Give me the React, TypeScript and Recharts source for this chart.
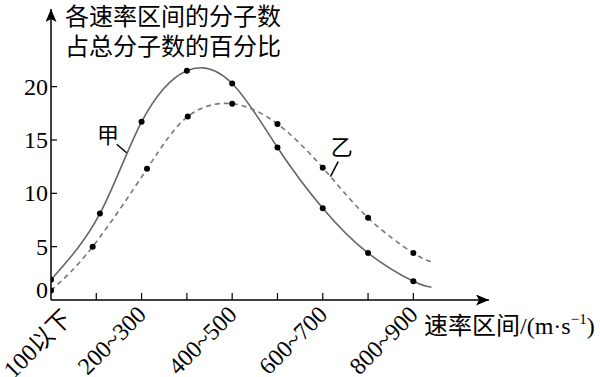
import React from 'react';
import {
  ComposedChart,
  Line,
  Scatter,
  XAxis,
  YAxis,
  ReferenceLine,
  ReferenceDot,
  Label,
} from 'recharts';

// speed intervals (index on the x axis)
const intervals = ['100以下', '100~200', '200~300', '300~400', '400~500', '500~600', '600~700', '700~800', '800~900'];
const xTicks = [0, 1, 2, 3, 4, 5, 6, 7, 8];
const yTicks = [0, 5, 10, 15, 20];

// 甲 measured points
const jiaX = [0, 1.08, 2, 3, 4, 5, 6, 7, 8];
const jiaY = [1.9, 8.1, 16.7, 21.5, 20.3, 14.3, 8.6, 4.4, 1.75];
// 乙 measured points
const yiX = [0, 0.92, 2.12, 3.02, 4, 5, 6, 7, 8];
const yiY = [0.9, 5.0, 12.3, 17.2, 18.4, 16.5, 12.4, 7.7, 4.4];
// where the fitted curves stop
const tailX = 8.4;
const jiaTail = 1.2;
const yiTail = 3.6;

const jiaPoints = jiaX.map((x, i) => ({ x, y: jiaY[i] }));
const yiPoints = yiX.map((x, i) => ({ x, y: yiY[i] }));
const jiaCurve = [...jiaPoints, { x: tailX, y: jiaTail }];
const yiCurve = [...yiPoints, { x: tailX, y: yiTail }];

const serif = { fontFamily: '"Liberation Serif", "DejaVu Serif", "Noto Sans CJK SC", serif' };
const cjk = { fontFamily: '"Noto Sans CJK SC", sans-serif' };

const YTick = (props: any) => {
  const { x, y, payload } = props;
  const up = payload.value === 0 ? -10 : 0;
  return (
    <g>
      {payload.value !== 0 && <line x1={x} x2={x + 6} y1={y} y2={y} stroke="#000" strokeWidth={1.2} />}
      <text x={x - 3} y={y + up} dy={8} textAnchor="end" fontSize={24} style={serif} fill="#000">
        {payload.value}
      </text>
    </g>
  );
};

const XTick = (props: any) => {
  const { x, y, payload } = props;
  const i = payload.value;
  const showLabel = i % 2 === 0;
  const first = i === 0;
  const tx = x + (first ? 22 : 6);
  const ty = y + (first ? 20 : 16);
  return (
    <g>
      {i !== 0 && <line x1={x} x2={x} y1={y} y2={y - 7} stroke="#000" strokeWidth={1.2} />}
      {showLabel && (
        <text x={tx} y={ty} textAnchor="end" fontSize={24} style={serif} fill="#000" transform={`rotate(-45, ${tx}, ${ty})`}>
          {intervals[i]}
        </text>
      )}
    </g>
  );
};

const dot = (p: any) => <circle cx={p.cx} cy={p.cy} r={3} fill="#000" />;

const nameTag = (name: string) => (p: any) => (
  <text x={p.cx} y={p.cy} textAnchor="middle" dominantBaseline="central" fontSize={22} style={cjk} fill="#000">
    {name}
  </text>
);

export default function App() {
  return (
    <div style={{ position: 'absolute', left: 0, top: 0, width: 600, height: 377, background: '#fff' }}>
      <svg width={0} height={0} style={{ position: 'absolute' }}>
        <defs>
          <marker id="axisArrow" markerUnits="userSpaceOnUse" markerWidth={14} markerHeight={12} refX={13} refY={5.5} orient="auto-start-reverse">
            <path d="M0,0 L13,5.5 L0,11 L3,5.5 Z" fill="#000" />
          </marker>
        </defs>
      </svg>
      <ComposedChart width={600} height={377} margin={{ top: 9, right: 111, bottom: 0, left: 0 }}>
        <XAxis
          dataKey="x"
          type="number"
          domain={[0, 9.67]}
          ticks={xTicks}
          interval={0}
          height={77}
          tickSize={0}
          tickMargin={0}
          tickLine={false}
          tick={<XTick />}
          allowDataOverflow
          axisLine={{ stroke: '#000', strokeWidth: 1.5, markerEnd: 'url(#axisArrow)' }}
        >
          <Label
            content={() => (
              <text x={424} y={334} fontSize={24} style={serif} fill="#000">
                <tspan style={cjk}>速率区间</tspan>
                <tspan>/(m·s</tspan>
                <tspan fontSize={15} dy={-10}>−1</tspan>
                <tspan dy={10}>)</tspan>
              </text>
            )}
          />
        </XAxis>
        <YAxis
          type="number"
          domain={[0, 27.28]}
          ticks={yTicks}
          width={51}
          tickSize={0}
          tickMargin={0}
          tickLine={false}
          tick={<YTick />}
          allowDataOverflow
          axisLine={{ stroke: '#000', strokeWidth: 1.5, markerStart: 'url(#axisArrow)' }}
        >
          <Label
            content={() => (
              <text fontSize={24} style={cjk} fill="#000">
                <tspan x={65} y={25}>各速率区间的分子数</tspan>
                <tspan x={65} y={55}>占总分子数的百分比</tspan>
              </text>
            )}
          />
        </YAxis>
        <Line data={jiaCurve} dataKey="y" type="natural" stroke="#666" strokeWidth={1.6} dot={false} activeDot={false} isAnimationActive={false} />
        <Line data={yiCurve} dataKey="y" type="natural" stroke="#777" strokeWidth={1.6} strokeDasharray="5 4" dot={false} activeDot={false} isAnimationActive={false} />
        <Scatter data={jiaPoints} dataKey="y" shape={dot} isAnimationActive={false} />
        <Scatter data={yiPoints} dataKey="y" shape={dot} isAnimationActive={false} />
        <ReferenceLine segment={[{ x: 1.45, y: 14.6 }, { x: 1.67, y: 13.8 }]} stroke="#000" strokeWidth={1.5} />
        <ReferenceLine segment={[{ x: 6.34, y: 12.97 }, { x: 6.17, y: 11.56 }]} stroke="#000" strokeWidth={1.5} />
        <ReferenceDot x={1.26} y={15.65} r={0} shape={nameTag('甲')} />
        <ReferenceDot x={6.42} y={14.53} r={0} shape={nameTag('乙')} />
      </ComposedChart>
    </div>
  );
}
